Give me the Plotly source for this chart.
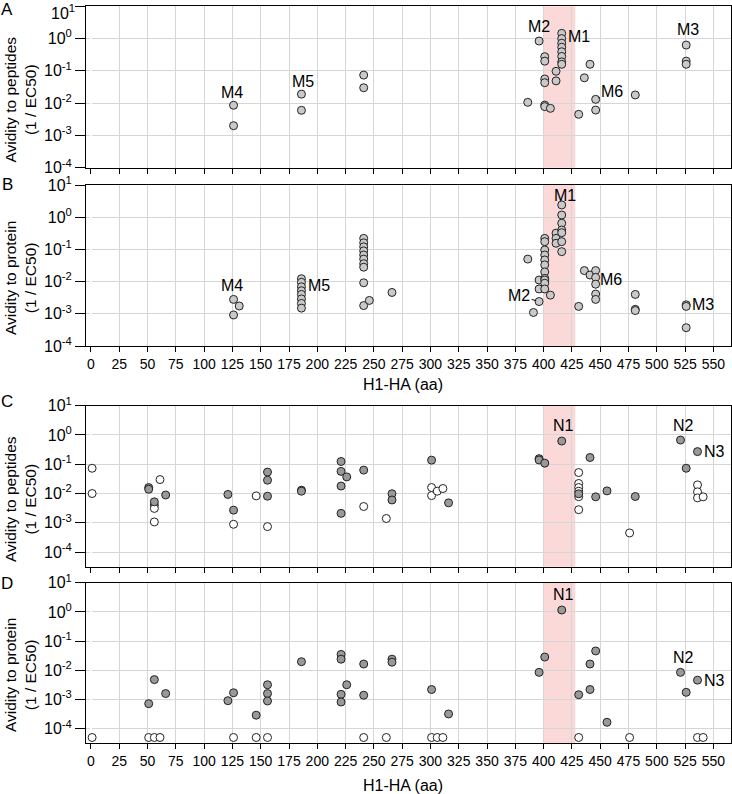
import math
import plotly.graph_objects as go

# ---------------- data ----------------
# Panel A: H1 mAbs (M), avidity to peptides
posA = [126, 126, 186, 186, 241, 241, 386, 396,
        401, 401, 401, 401, 401, 401, 406, 411, 411,
        416, 416, 416, 416, 416, 416, 416, 416,
        431, 436, 441, 446, 446, 481, 526, 526, 526]
valA = [0.0086, 0.002, 0.019, 0.006, 0.074, 0.030, 0.0106, 0.84,
        0.275, 0.20, 0.056, 0.043, 0.0087, 0.0078, 0.0069, 0.097, 0.049,
        1.45, 1.0, 0.72, 0.54, 0.39, 0.28, 0.19, 0.16,
        0.0045, 0.061, 0.16, 0.0131, 0.0061, 0.0179, 0.63, 0.20, 0.16]

# Panel B: H1 mAbs (M), avidity to protein
posB = [126, 126, 131,
        186, 186, 186, 186, 186, 186, 186, 186,
        241, 241, 241, 241, 241, 241, 241, 241, 241, 241, 246, 266,
        386, 391, 396, 396, 396,
        401, 401, 401, 401, 401, 401, 401, 401, 401, 401, 401,
        406, 411, 411, 411,
        416, 416, 416, 416, 416, 416, 416,
        431, 436, 441, 446, 446, 446, 446, 446,
        481, 481, 481, 526, 526, 526]
valB = [0.0028, 0.00092, 0.00175,
        0.0123, 0.0095, 0.0069, 0.0052, 0.0040, 0.0029, 0.0021, 0.0015,
        0.22, 0.16, 0.12, 0.09, 0.067, 0.05, 0.036, 0.028, 0.0092, 0.0018, 0.0026, 0.0046,
        0.050, 0.0011, 0.0024, 0.0112, 0.0059,
        0.22, 0.174, 0.096, 0.067, 0.047, 0.033, 0.020, 0.0126, 0.0112, 0.0089, 0.0059,
        0.0038, 0.32, 0.22, 0.155,
        2.4, 1.17, 0.65, 0.40, 0.33, 0.174, 0.085,
        0.0017, 0.022, 0.016, 0.022, 0.0135, 0.0083, 0.0041, 0.0028,
        0.0040, 0.00138, 0.00126, 0.0019, 0.0017, 0.00037]

# Panel C: N mAbs, avidity to peptides (filled / open)
posC_fill = [51, 51, 56, 66, 121, 126, 156, 156, 156, 186, 186,
             221, 221, 221, 221, 226, 241, 266, 266, 301, 316,
             396, 396, 401, 416, 431, 441, 446, 456, 481, 521, 526, 536]
valC_fill = [0.016, 0.014, 0.0052, 0.0089, 0.0093, 0.0027, 0.054, 0.0285, 0.0081, 0.013, 0.012,
             0.124, 0.057, 0.018, 0.0021, 0.037, 0.063, 0.0098, 0.006, 0.138, 0.0048,
             0.155, 0.14, 0.109, 0.62, 0.0098, 0.17, 0.0077, 0.0123, 0.0079, 0.67, 0.073, 0.27]
posC_open = [1, 1, 56, 56, 56, 61, 126, 146, 156, 241, 261, 301, 301, 306, 311,
             431, 431, 431, 431, 431, 431, 476, 536, 536, 536, 541]
valC_open = [0.073, 0.010, 0.0040, 0.0031, 0.00107, 0.030, 0.00089, 0.0083, 0.00074,
             0.0036, 0.0014, 0.016, 0.0085, 0.012, 0.0148,
             0.052, 0.022, 0.016, 0.012, 0.0078, 0.0028, 0.00045, 0.0197, 0.0114, 0.0071, 0.0077]

# Panel D: N mAbs, avidity to protein (filled / open)
posD_fill = [51, 56, 66, 121, 126, 146, 156, 156, 156, 186,
             221, 221, 221, 221, 226, 241, 241, 266, 266, 301, 316,
             396, 401, 416, 431, 441, 441, 446, 456, 521, 526, 536]
valD_fill = [0.00072, 0.0048, 0.0016, 0.00091, 0.0017, 0.00029, 0.0032, 0.0016, 0.00089, 0.0197,
             0.035, 0.024, 0.0015, 0.00082, 0.0032, 0.0164, 0.0014, 0.024, 0.019, 0.0022, 0.00032,
             0.0085, 0.0285, 1.16, 0.00146, 0.0164, 0.0022, 0.046, 0.000166, 0.0085, 0.00176, 0.0046]
posD_open = [1, 51, 56, 61, 126, 146, 156, 241, 261, 301, 306, 311, 431, 476, 536, 541]
valD_open = [5e-5] * len(posD_open)

# highlighted region (aa)
region = [400, 428]

# y tick labels
ytick_vals = [1e-4, 1e-3, 1e-2, 1e-1, 1e0, 1e1]
ytick_text = ["10<sup>-4</sup>", "10<sup>-3</sup>", "10<sup>-2</sup>",
              "10<sup>-1</sup>", "10<sup>0</sup>", "10<sup>1</sup>"]

# ---------------- layout helpers ----------------
W, H = 732, 794
FONT = "Liberation Sans, Arial, sans-serif"
NARROW = "Liberation Sans Narrow, Arial Narrow, Liberation Sans, Arial, sans-serif"
LIGHT = "#c9c9c9"
DARK = "#999999"
GRID = "#d6d6d6"

minor_vals = [m * 10 ** e for e in range(-5, 1) for m in range(2, 10)]

x_px = (86, 731)
x_range = [-4.4, 565.6]
panels = [  # top px, bottom px, y range (log)
    (6.3, 167.7, [-4, 1]),
    (185, 346, [-4, 1]),
    (405.7, 566.7, [-4.5, 1]),
    (582.7, 743.3, [-4.5, 1]),
]

fig = go.Figure()

def mk(x, y, ax, fill):
    return go.Scatter(x=x, y=y, mode="markers", xaxis="x" + ax, yaxis="y" + ax,
                      marker=dict(size=8, color=fill, line=dict(color="#222", width=1)),
                      hoverinfo="x+y", showlegend=False)

fig.add_trace(mk(posA, valA, "", LIGHT))
fig.add_trace(mk(posB, valB, "2", LIGHT))
fig.add_trace(mk(posC_open, valC_open, "3", "white"))
fig.add_trace(mk(posC_fill, valC_fill, "3", DARK))
fig.add_trace(mk(posD_open, valD_open, "4", "white"))
fig.add_trace(mk(posD_fill, valD_fill, "4", DARK))

layout = dict(width=W, height=H, margin=dict(l=0, r=0, t=0, b=0, autoexpand=False),
              paper_bgcolor="white", plot_bgcolor="white", showlegend=False,
              font=dict(family=FONT, color="black"))
shapes = []
for i, (top, bot, yr) in enumerate(panels):
    sfx = "" if i == 0 else str(i + 1)
    dom_y = [1 - bot / H, 1 - top / H]
    # the topmost label of panel A is placed separately (nudged down from the edge)
    ttext = list(ytick_text)
    if i == 0:
        ttext[-1] = ""
    layout["xaxis" + sfx] = dict(
        domain=[x_px[0] / W, x_px[1] / W], anchor="y" + sfx, range=x_range,
        tickmode="linear", tick0=0, dtick=25, ticks="outside", ticklen=5,
        tickcolor="black", showgrid=True, gridcolor=GRID, gridwidth=1,
        zeroline=True, zerolinecolor="white", showline=True, linecolor="black",
        linewidth=1, mirror=True, showticklabels=(i in (1, 3)), tickangle=0,
        automargin=False, ticklabeloverflow="allow",
        tickfont=dict(family=NARROW, size=14, color="black"))
    layout["yaxis" + sfx] = dict(
        domain=dom_y, anchor="x" + sfx, type="log", range=yr,
        tickmode="array", tickvals=ytick_vals, ticktext=ttext,
        ticks="outside", ticklen=10, tickcolor="black",
        showgrid=True, gridcolor=GRID, gridwidth=1, zeroline=False,
        showline=True, linecolor="black", linewidth=1, mirror=True,
        automargin=False, ticklabeloverflow="allow",
        tickfont=dict(family=FONT, size=16, color="black"))
    # overlay axis carrying the minor (2..9) log ticks
    layout["yaxis" + str(i + 5)] = dict(
        domain=dom_y, anchor="x" + sfx, overlaying="y" + sfx, side="left",
        type="log", range=yr, tickmode="array", tickvals=minor_vals,
        ticks="outside", ticklen=4, tickcolor="black", showticklabels=False,
        showgrid=False, zeroline=False, showline=False, automargin=False)
    shapes.append(dict(type="rect", xref="x" + sfx, yref="y" + sfx + " domain",
                       x0=region[0], x1=region[1], y0=0, y1=1, layer="below",
                       line=dict(width=0), fillcolor="#fcd9d9"))
layout["shapes"] = shapes

ann = []
# top tick label of panel A
ann.append(dict(text=ytick_text[-1], xref="paper", yref="paper", x=76.5 / W, y=1 - 12.5 / H,
                xanchor="right", yanchor="middle", showarrow=False,
                font=dict(size=16, family=FONT)))
# panel letters
for letter, ypx in [("A", 9), ("B", 185), ("C", 401.7), ("D", 583)]:
    ann.append(dict(text=letter, xref="paper", yref="paper", x=7.5 / W, y=1 - ypx / H,
                    xanchor="center", yanchor="middle", showarrow=False,
                    font=dict(size=17, family=FONT)))
# y titles
for txt, ypx in [("Avidity to peptides<br>(1 / EC50)", 99.5),
                 ("Avidity to protein<br>(1 / EC50)", 278),
                 ("Avidity to peptides<br>(1 / EC50)", 499),
                 ("Avidity to protein<br>(1 / EC50)", 675)]:
    ann.append(dict(text=txt, xref="paper", yref="paper", x=20 / W, y=1 - ypx / H,
                    xanchor="center", yanchor="middle", textangle=-90, showarrow=False,
                    font=dict(size=15.5, family=FONT)))
# x titles
for ypx in [384, 785]:
    ann.append(dict(text="H1-HA (aa)", xref="paper", yref="paper", x=403 / W, y=1 - ypx / H,
                    xanchor="center", yanchor="middle", showarrow=False,
                    font=dict(size=16, family=FONT)))

# epitope labels: (axis suffix, text, x, log10 y)
labels = [
    ("", "M4", 124.3, -1.655), ("", "M5", 187.4, -1.314), ("", "M2", 395.9, 0.368),
    ("", "M1", 431.7, 0.058), ("", "M3", 527.2, 0.266),
    ("2", "M4", 124.3, -2.115), ("2", "M5", 201.5, -2.115), ("2", "M1", 418.6, 0.689),
    ("2", "M3", 540.9, -2.696),
    ("3", "N1", 417.8, 0.339), ("3", "N2", 523.2, 0.339), ("3", "N3", 550.7, -0.562),
    ("4", "N1", 417.8, 0.596), ("4", "N2", 523.2, -1.562), ("4", "N3", 550.7, -2.349),
]
for sfx, t, x, ly in labels:
    ann.append(dict(text=t, xref="x" + sfx, yref="y" + sfx, x=x, y=ly, showarrow=False,
                    xanchor="center", yanchor="middle", font=dict(size=16, family=FONT)))
# labels with leader lines: (axis, text, point x, point value, dx px, dy px)
leaders = [("", "M6", 446, 0.0131, 16.4, -8), ("2", "M2", 396, 0.0024, -20, -5.7),
           ("2", "M6", 446, 0.0135, 15.4, 2.4)]
for sfx, t, x, v, dx, dy in leaders:
    ann.append(dict(text=t, xref="x" + sfx, yref="y" + sfx, x=x, y=math.log10(v),
                    showarrow=True, arrowhead=0, arrowwidth=1, arrowcolor="black",
                    ax=dx, ay=dy, standoff=3, font=dict(size=16, family=FONT)))
layout["annotations"] = ann

fig.update_layout(**layout)
fig.write_html("out.html", config={"displayModeBar": False},
               post_script="document.body.style.margin='0';document.body.style.overflow='hidden';")
